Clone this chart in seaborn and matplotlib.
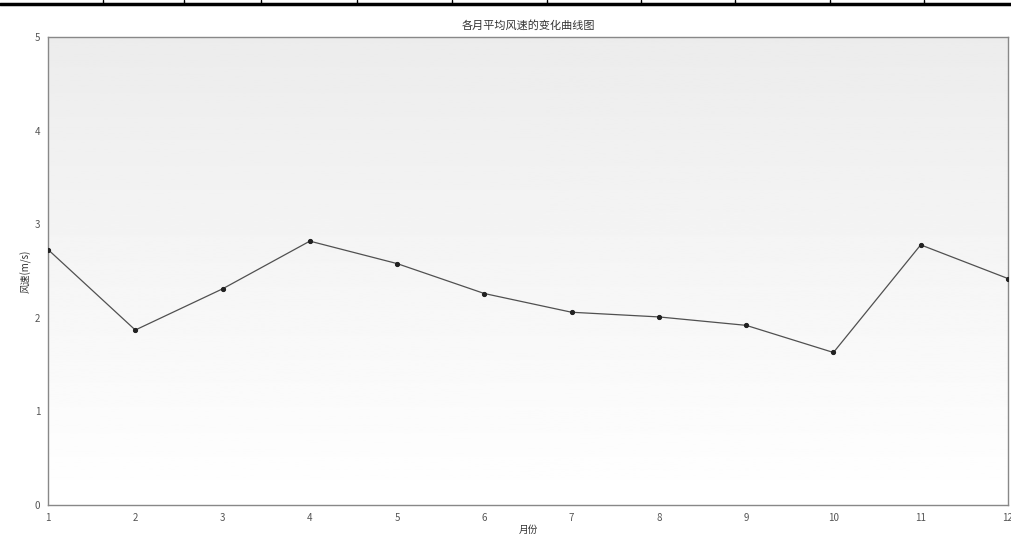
import numpy as np
import pandas as pd
import seaborn as sns
import matplotlib.pyplot as plt
from matplotlib.lines import Line2D

months = [1, 2, 3, 4, 5, 6, 7, 8, 9, 10, 11, 12]
wind = [2.73, 1.87, 2.31, 2.82, 2.58, 2.26, 2.06, 2.01, 1.92, 1.63, 2.78, 2.42]

sns.set_style('white')
plt.rcParams['font.family'] = ['Noto Sans CJK SC', 'DejaVu Sans']

df = pd.DataFrame({'月份': months, '风速(m/s)': wind})

fig = plt.figure(figsize=(10.11, 5.38), dpi=100)
ax = fig.add_axes([0.0475, 0.0613, 0.9495, 0.8697])

# light grey gradient behind the plot, darker at the top
grad = np.linspace(0.925, 1.0, 256).reshape(-1, 1)
ax.imshow(grad, cmap='gray', vmin=0, vmax=1, aspect='auto',
          extent=[1, 12, 0, 5], zorder=0, origin='upper')

sns.lineplot(data=df, x='月份', y='风速(m/s)', ax=ax, color='#505050',
             linewidth=0.9, marker='o', markersize=3,
             markerfacecolor='#222222', markeredgecolor='#222222', zorder=3)

ax.set_xlim(1, 12)
ax.set_ylim(0, 5)
ax.set_xticks(months)
ax.set_yticks([0, 1, 2, 3, 4, 5])
ax.tick_params(labelsize=7, length=3, colors='#555555', direction='inout', pad=4)
ax.set_title('各月平均风速的变化曲线图', fontsize=8, color='#333333', pad=6)
ax.set_xlabel('月份', fontsize=7, color='#333333', labelpad=2)
ax.set_ylabel('风速(m/s)', fontsize=7, color='#333333', labelpad=2)
for s in ax.spines.values():
    s.set_color('#888888')
    s.set_linewidth(1.0)

# table border from the page above
fig.add_artist(Line2D([0, 1], [0.992, 0.992], color='black', linewidth=2.5,
                      transform=fig.transFigure))
for xp in [103, 184, 261, 357, 452, 547, 641, 735, 830, 924]:
    fig.add_artist(Line2D([xp / 1011, xp / 1011], [0.992, 1.0], color='black',
                          linewidth=1, transform=fig.transFigure))

fig.savefig('out.png', dpi=100)
